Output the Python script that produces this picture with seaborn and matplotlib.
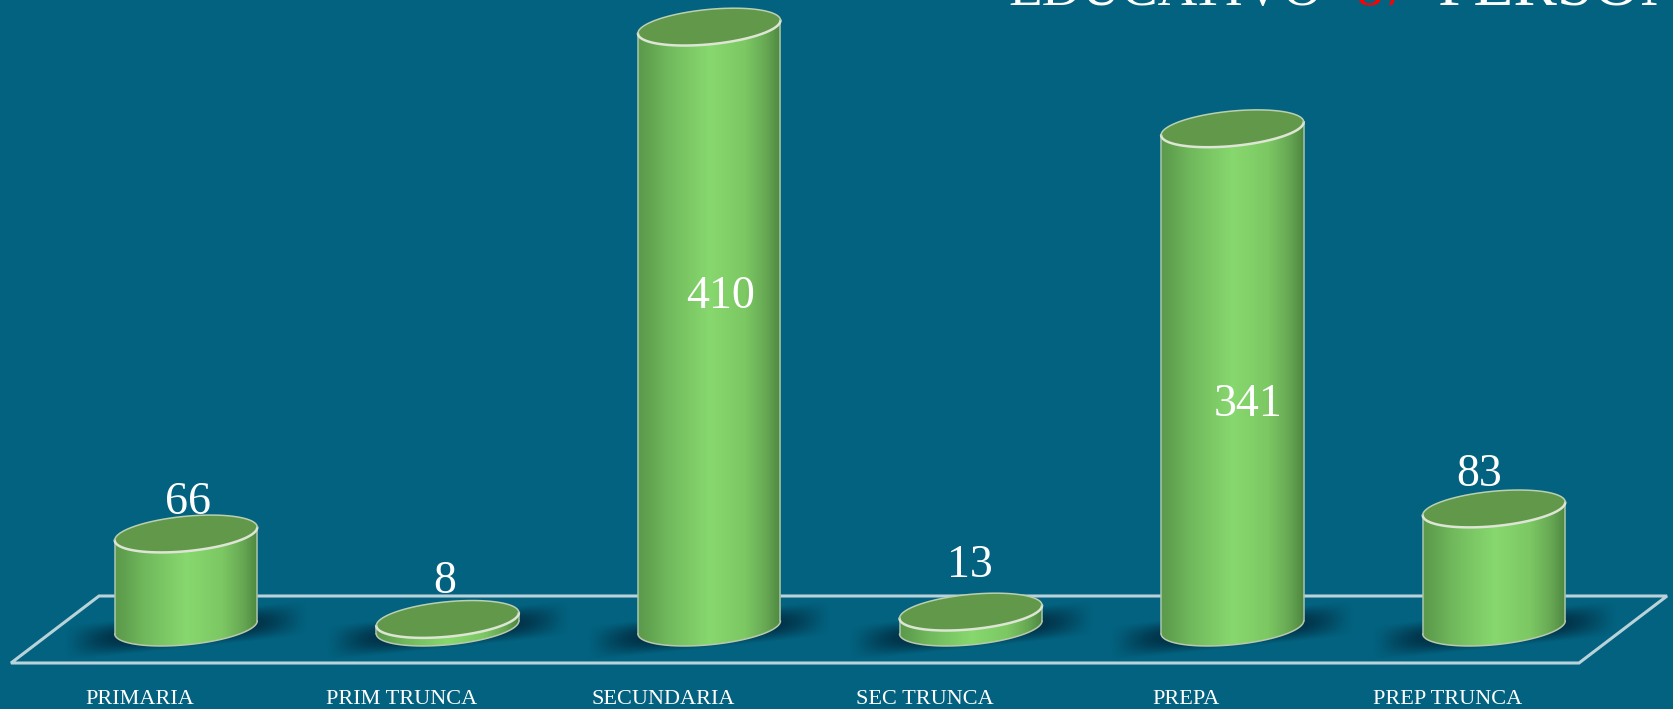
# -*- coding: utf-8 -*-
import numpy as np
import matplotlib
matplotlib.use('Agg')
import matplotlib.pyplot as plt
import seaborn as sns
from matplotlib.colors import LinearSegmentedColormap
from matplotlib.patches import PathPatch, Polygon
from matplotlib.path import Path

# datos
categorias = ['PRIMARIA', 'PRIM TRUNCA', 'SECUNDARIA', 'SEC TRUNCA', 'PREPA', 'PREP TRUNCA']
valores = [66, 8, 410, 13, 341, 83]
titulo_partes = ['EDUCATIVO', '87', 'PERSONAS']

FONDO = '#03627f'
W, H = 1673, 709

sns.set_theme(style='white', rc={'axes.facecolor': FONDO, 'figure.facecolor': FONDO})
plt.rcParams['font.family'] = ['Liberation Serif', 'DejaVu Serif']

fig = plt.figure(figsize=(W / 100, H / 100), dpi=100)
ax = fig.add_axes([0, 0, 1, 1])

sns.barplot(x=categorias, y=valores, color='#85d66c', width=0.545, ax=ax, zorder=3)

# escalas: pixeles por categoria y por unidad
px_cat = 261.6
px_val = 1.4735
x0, y0 = 186.0, 631.0
xlim = (-x0 / px_cat, (W - x0) / px_cat)
ylim = (-(H - y0) / px_val, y0 / px_val)
base = 2.5  # el cilindro no arranca justo en cero


def px(xp, yp):
    return (xp - x0) / px_cat, (y0 - yp) / px_val


# suelo
piso = [px(11, 663), px(1579, 663), px(1667, 596), px(99, 596)]
ax.add_patch(Polygon(piso, closed=True, fill=False, ec='#b9d3da', lw=2.2, zorder=1))

grad = LinearSegmentedColormap.from_list('cil', [
    (0.00, '#5c9a4c'), (0.05, '#5f9f4e'), (0.20, '#70b85c'), (0.50, '#87d86e'),
    (0.75, '#7cc863'), (0.90, '#66a753'), (1.00, '#4e8740')])
xx = np.linspace(0, 1, 256)[None, :]

# sombra
gx, gy = np.meshgrid(np.linspace(-1, 1, 240), np.linspace(-1, 1, 80))
v = gy - 0.45 * gx
sombra = np.zeros(gx.shape + (4,))
sombra[..., :3] = matplotlib.colors.to_rgb('#01283c')
sombra[..., 3] = 0.95 * np.clip(1 - gx ** 4, 0, 1) ** 1.5 * np.clip(1 - (v / 0.62) ** 2, 0, 1) ** 1.2

a_px, b_px, s_px = 71.0, 17.5, 6.5
t = np.linspace(0, 2 * np.pi, 121)

barras = list(ax.patches)
for b in barras[:len(valores)]:
    b.set_visible(False)
    cx = b.get_x() + b.get_width() / 2
    val = b.get_height()
    ax_half = b.get_width() / 2
    by = b_px / px_val
    sy = s_px / px_val

    ax.imshow(sombra, extent=(cx - 122 / px_cat, cx + 122 / px_cat, base - 32 / px_val, base + 24 / px_val),
              origin='lower', aspect='auto', zorder=2, interpolation='bilinear')

    # cuerpo
    tb = np.linspace(np.pi, 2 * np.pi, 60)
    xb = cx + ax_half * np.cos(tb)
    yb = base + by * np.sin(tb) + sy * np.cos(tb)
    xs = np.r_[cx - ax_half, xb, cx + ax_half, cx - ax_half]
    ys = np.r_[val - sy, yb, val + sy, val - sy]
    cuerpo = Path(np.c_[xs, ys])
    pp = PathPatch(cuerpo, fc='none', ec='none', transform=ax.transData)
    ax.add_patch(pp)
    im = ax.imshow(xx, cmap=grad, extent=(cx - ax_half, cx + ax_half, -40, val + 20),
                   aspect='auto', zorder=3, interpolation='bilinear')
    im.set_clip_path(pp)

    ax.plot(xb, yb, color='#b9c9ae', lw=1.1, zorder=4)
    ax.plot([cx - ax_half] * 2, [base - sy, val - sy], color='#a9c6ae', lw=1.1, zorder=4)
    ax.plot([cx + ax_half] * 2, [base + sy, val + sy], color='#a9c6ae', lw=1.1, zorder=4)

    # tapa
    xt = cx + ax_half * np.cos(t)
    yt = val + by * np.sin(t) + sy * np.cos(t)
    ax.fill(xt, yt, fc='#61984a', ec='none', zorder=5)
    ax.plot(xt[60:], yt[60:], color='#dde5d4', lw=1.8, zorder=6)
    ax.plot(xt[:61], yt[:61], color='#b9d0b2', lw=1.1, zorder=6)

# etiquetas de valores (desplazamiento en px)
etiqueta_dx = [2, -3, 11, -1, 16, -15]
etiqueta_py = [503, 582, 297, 566, 405, 475]
for i, val in enumerate(valores):
    ex, ey = px(186 + i * px_cat + etiqueta_dx[i], etiqueta_py[i])
    ax.text(ex, ey, str(val), color='white', fontsize=33, ha='center', va='center', zorder=8)

# titulo cortado por arriba
for parte, xp, col, fs in zip(titulo_partes, [1008, 1356, 1437], ['white', '#ff0000', 'white'], [39.5, 39.5, 47]):
    tx, ty = px(xp, 5)
    ax.text(tx, ty, parte, color=col, fontsize=fs, ha='left', va='baseline', zorder=8, clip_on=True)

ax.set_xlim(*xlim)
ax.set_ylim(*ylim)
ax.set_xticks(np.arange(len(categorias)) - 46 / px_cat, categorias)
ax.set_yticks([])
ax.tick_params(axis='x', length=0, pad=-14, labelsize=16, labelcolor='white')
ax.set_xlabel('')
sns.despine(ax=ax, left=True, bottom=True)

fig.savefig('out.png', dpi=100, facecolor=FONDO)
